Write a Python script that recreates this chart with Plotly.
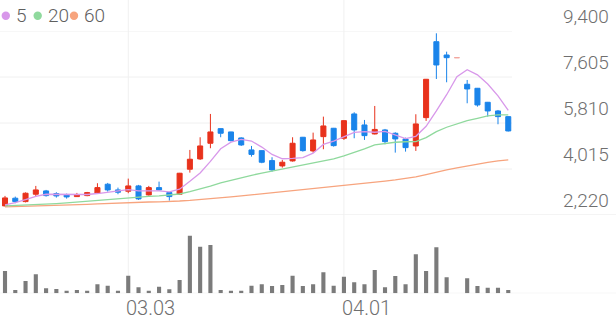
import plotly.graph_objects as go

dates = ["02.13","02.14","02.17","02.18","02.19","02.20","02.21","02.24","02.25","02.26",
         "02.27","02.28","03.03","03.04","03.05","03.06","03.07","03.10","03.11","03.12",
         "03.13","03.14","03.17","03.18","03.19","03.20","03.21","03.24","03.25","03.26",
         "03.27","03.28","03.31","04.01","04.02","04.03","04.04","04.07","04.08","04.09",
         "04.10","04.11","04.14","04.15","04.16","04.17","04.18","04.21","04.22","04.23"]

opens = [2575, 2875, 2743, 3031, 3160, 3055, 3016, 2938, 2977, 3070,
         3421, 3199, 3148, 3355, 3004, 3289, 3094, 3031, 4006, 4408,
         5020, 5590, 5461, 5227, 4759, 4732, 4342, 4135, 4330, 5254,
         4720, 5278, 5605, 5215, 6163, 5734, 5383, 5539, 5410, 5188,
         4915, 6019, 8983, 8464, 8359, 7321, 7165, 6619, 6280, 6058]
highs = [2965, 2938, 3102, 3355, 3199, 3109, 3055, 3082, 3121, 3460,
         3472, 3289, 3640, 3394, 3355, 3523, 3102, 3862, 4759, 5254,
         6163, 5598, 5469, 5254, 4915, 4740, 4474, 4369, 5254, 5266,
         5434, 6058, 5617, 5910, 6229, 5929, 6475, 5578, 5449, 5239,
         6151, 7528, 9310, 8593, 8359, 7489, 7177, 6631, 6319, 6066]
lows = [2555, 2680, 2712, 2938, 2938, 2899, 2860, 2926, 2953, 3043,
        3133, 3031, 3070, 2809, 2977, 3187, 2782, 3004, 3874, 4369,
        4825, 5254, 5090, 4915, 4498, 4240, 3913, 4069, 4303, 4693,
        4654, 4786, 4888, 5149, 5215, 5149, 5364, 4981, 4654, 4693,
        4720, 5890, 7528, 7399, 8359, 6580, 6448, 6058, 5761, 5480]
closes = [2887, 2743, 3070, 3199, 2977, 2965, 2926, 3016, 3094, 3289,
          3199, 3109, 3355, 2848, 3289, 3199, 2938, 3850, 4396, 4915,
          5461, 5410, 5122, 4954, 4584, 4279, 3979, 4279, 5020, 4732,
          5149, 5695, 4927, 5902, 5539, 5317, 5559, 5083, 5188, 4849,
          5773, 7516, 8074, 8359, 8359, 7138, 6514, 6280, 6058, 5500]

ma5 = [2614, 2700, 2820, 2950, 3030, 3030, 3030, 3020, 3020, 3058,
       3105, 3141, 3209, 3160, 3160, 3160, 3126, 3225, 3534, 3860,
       4312, 4806, 5061, 5172, 5106, 4870, 4584, 4415, 4428, 4458,
       4632, 4975, 5105, 5281, 5442, 5476, 5449, 5480, 5337, 5199,
       5290, 5682, 6280, 6914, 7616, 7889, 7689, 7330, 6870, 6298]
ma20 = [2575, 2588, 2601, 2614, 2640, 2666, 2692, 2725, 2757, 2790,
        2829, 2868, 2900, 2926, 2945, 2965, 2995, 3040, 3130, 3230,
        3350, 3470, 3580, 3680, 3770, 3850, 3930, 4010, 4084, 4162,
        4240, 4330, 4408, 4525, 4654, 4798, 4954, 5012, 5059, 5079,
        5083, 5239, 5473, 5644, 5785, 5902, 5995, 6085, 6124, 6124]
ma60 = [2536, 2546, 2556, 2565, 2575, 2590, 2605, 2620, 2634, 2654,
        2673, 2693, 2712, 2720, 2728, 2736, 2743, 2766, 2790, 2819,
        2848, 2887, 2926, 2965, 3004, 3043, 3082, 3131, 3180, 3219,
        3258, 3297, 3336, 3375, 3414, 3453, 3492, 3540, 3589, 3648,
        3706, 3800, 3901, 3980, 4057, 4135, 4213, 4272, 4330, 4369]

volumes = [446000, 66000, 246000, 380000, 100000, 86000, 52000, 66000, 52000, 180000,
           152000, 52000, 352000, 120000, 52000, 132000, 80000, 266000, 1152000, 932000,
           966000, 66000, 52000, 52000, 152000, 180000, 146000, 166000, 352000, 146000,
           180000, 420000, 152000, 332000, 220000, 180000, 466000, 120000, 346000, 180000,
           780000, 446000, 920000, 320000, 0, 300000, 146000, 112000, 112000, 66000]

price_ticks = [9400, 7605, 5810, 4015, 2220]
price_tick_text = ["9,400", "7,605", "5,810", "4,015", "2,220"]
date_ticks = ["03.03", "04.01"]
halt_day = "04.16"

ma_names = ["5", "20", "60"]
ma_colors = ["#d898ea", "#8fd99d", "#f7a47e"]

W, H = 616, 321
RED = "#e8321c"
BLUE = "#1a84ea"
GRID = "#f0f0f0"
TEXT = "#6f6f6f"
FONT = "Roboto"

def px(xp):
    return xp / W

def py(yp):
    return 1 - yp / H

fig = go.Figure()

# moving averages
for vals, col in zip([ma60, ma20, ma5], [ma_colors[2], ma_colors[1], ma_colors[0]]):
    fig.add_trace(go.Scatter(x=dates, y=vals, mode="lines",
                             line=dict(color=col, width=1.3),
                             hoverinfo="skip", showlegend=False, yaxis="y"))

# candles (trading halt day drawn separately)
idx = [i for i, d in enumerate(dates) if d != halt_day]
fig.add_trace(go.Candlestick(
    x=[dates[i] for i in idx],
    open=[opens[i] for i in idx], high=[highs[i] for i in idx],
    low=[lows[i] for i in idx], close=[closes[i] for i in idx],
    increasing=dict(line=dict(color=RED, width=1), fillcolor=RED),
    decreasing=dict(line=dict(color=BLUE, width=1), fillcolor=BLUE),
    showlegend=False, yaxis="y"))
h = dates.index(halt_day)
fig.add_trace(go.Candlestick(
    x=[dates[h]], open=[opens[h]], high=[highs[h]], low=[lows[h]], close=[closes[h]],
    increasing=dict(line=dict(color="#f3a79f", width=1), fillcolor="#f3a79f"),
    decreasing=dict(line=dict(color="#f3a79f", width=1), fillcolor="#f3a79f"),
    showlegend=False, yaxis="y"))

# volume
fig.add_trace(go.Bar(x=dates, y=volumes, marker=dict(color="#7b7b7b", line=dict(width=0)),
                     width=0.4, yaxis="y2", showlegend=False, hoverinfo="skip"))

price_top, price_bot = 31, 215
vol_top, vol_bot = 216, 293.3

shapes = []
for v in price_ticks[:-1]:
    shapes.append(dict(type="line", xref="paper", yref="y", x0=0, x1=px(512), y0=v, y1=v,
                       line=dict(color=GRID, width=1), layer="below"))
shapes.append(dict(type="line", xref="paper", yref="y", x0=0, x1=1, y0=price_ticks[-1], y1=price_ticks[-1],
                   line=dict(color="#e9e9e9", width=1), layer="below"))
shapes.append(dict(type="line", xref="paper", yref="y2", x0=0, x1=1, y0=0, y1=0,
                   line=dict(color="#e9e9e9", width=1), layer="below"))
for d in date_ticks:
    k = dates.index(d)
    shapes.append(dict(type="line", xref="x", yref="paper", x0=k, x1=k, y0=py(vol_bot), y1=1,
                       line=dict(color=GRID, width=1), layer="below"))

annotations = []
for v, t in zip(price_ticks, price_tick_text):
    annotations.append(dict(xref="paper", yref="y", x=px(611), y=v, text=t, showarrow=False,
                            xanchor="right", yanchor="bottom", yshift=1,
                            font=dict(family=FONT, size=19, color=TEXT, weight=300)))
for d in date_ticks:
    k = dates.index(d)
    annotations.append(dict(xref="x", yref="paper", x=k, y=0, text=d, showarrow=False,
                            xanchor="left", yanchor="bottom", xshift=-3, yshift=0,
                            borderpad=0,
                            font=dict(family=FONT, size=20, color=TEXT, weight=300)))

# legend
leg_dot_x = [5.8, 37.7, 74]
leg_txt_x = [14, 45.5, 81.5]
for name, col, dx, tx in zip(ma_names, ma_colors, leg_dot_x, leg_txt_x):
    shapes.append(dict(type="circle", xref="paper", yref="paper",
                       x0=px(dx - 4.2), x1=px(dx + 4.2), y0=py(15.7 + 4.2), y1=py(15.7 - 4.2),
                       fillcolor=col, line=dict(width=0)))
    annotations.append(dict(xref="paper", yref="paper", x=px(tx), y=py(15.5), text=name,
                            showarrow=False, xanchor="left", yanchor="middle",
                            font=dict(family=FONT, size=19, color="#5f5f5f", weight=300)))

fig.update_layout(
    width=W, height=H, margin=dict(l=0, r=0, t=0, b=0),
    paper_bgcolor="white", plot_bgcolor="white",
    showlegend=False, hovermode=False,
    xaxis=dict(type="category", categoryorder="array", categoryarray=dates,
               range=[-0.487, 59.49], domain=[0, 1], showgrid=False, zeroline=False,
               showticklabels=False, ticks="", rangeslider=dict(visible=False), fixedrange=True),
    yaxis=dict(domain=[py(price_bot), py(price_top)], range=[2220, 9400], showgrid=False,
               zeroline=False, showticklabels=False, ticks="", fixedrange=True),
    yaxis2=dict(domain=[py(vol_bot), py(vol_top)], range=[0, 1546000], showgrid=False,
                zeroline=False, showticklabels=False, ticks="", fixedrange=True),
    shapes=shapes, annotations=annotations,
)

fig.write_html("out.html")
